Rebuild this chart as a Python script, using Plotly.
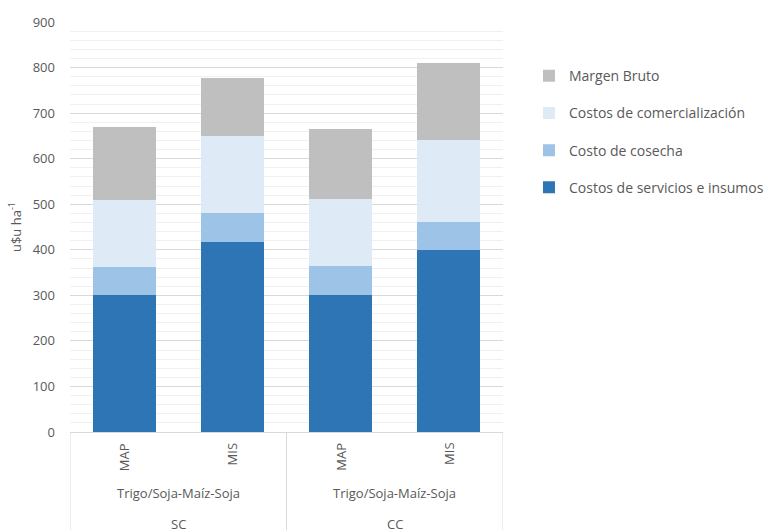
import plotly.graph_objects as go

# Treatments (inner level), rotation (middle level) and system (outer level)
treatments = ["MAP", "MIS", "MAP", "MIS"]
rotations = ["Trigo/Soja-Maíz-Soja", "Trigo/Soja-Maíz-Soja"]
systems = ["SC", "CC"]

# Stacked components, u$u ha-1
servicios = [300, 418, 300, 400]
cosecha = [63, 62, 64, 62]
comercializacion = [147, 169, 147, 178]
margen = [160, 128, 154, 170]

series_names = [
    "Costos de servicios e insumos",
    "Costo de cosecha",
    "Costos de comercialización",
    "Margen Bruto",
]
series_values = [servicios, cosecha, comercializacion, margen]
series_colors = ["#2E75B6", "#9DC3E6", "#DEEBF7", "#BFBFBF"]

y_ticks = [0, 100, 200, 300, 400, 500, 600, 700, 800, 900]

FONT = "Open Sans"
GREY = "#595959"
LINE = "#d9d9d9"

xpos = list(range(len(treatments)))

fig = go.Figure()
n = len(series_names)
for i, (name, vals, col) in enumerate(zip(series_names, series_values, series_colors)):
    fig.add_trace(go.Bar(
        x=xpos, y=vals, name=name, legendgroup=f"g{i}", legendrank=100 + (n - i),
        marker=dict(color=col, line=dict(width=0)),
    ))

annotations = []
# inner level labels, rotated
for x, t in zip(xpos, treatments):
    annotations.append(dict(
        x=x, y=0, xref="x", yref="paper", text=t, textangle=-90,
        showarrow=False, xanchor="center", yanchor="top", yshift=-9,
        font=dict(family=FONT, size=13, color=GREY),
    ))
# middle and outer level labels
for g, (rot, sysname) in enumerate(zip(rotations, systems)):
    cx = 2 * g + 0.5
    annotations.append(dict(
        x=cx, y=0, xref="x", yref="paper", text=rot, showarrow=False,
        xanchor="center", yanchor="middle", yshift=-61,
        font=dict(family=FONT, size=13, color=GREY),
    ))
    annotations.append(dict(
        x=cx, y=0, xref="x", yref="paper", text=sysname, showarrow=False,
        xanchor="center", yanchor="middle", yshift=-92,
        font=dict(family=FONT, size=13, color=GREY),
    ))

# group divider lines under the axis
shapes = []
for xd in [-0.5, 1.5, 3.5]:
    shapes.append(dict(
        type="line", xref="x", yref="paper", x0=xd, x1=xd, y0=0, y1=-0.3,
        line=dict(color=LINE, width=1),
    ))

fig.update_layout(
    barmode="stack",
    bargap=0.42,
    width=770, height=530,
    margin=dict(l=70, r=267, t=22, b=98, pad=0, autoexpand=False),
    plot_bgcolor="white", paper_bgcolor="white",
    font=dict(family=FONT, size=13, color=GREY),
    xaxis=dict(
        range=[-0.5, 3.5], showticklabels=False, showgrid=False, zeroline=False,
        showline=True, linecolor=LINE, linewidth=1, ticks="",
    ),
    yaxis=dict(
        range=[0, 900], tickvals=y_ticks, showgrid=True, gridcolor=LINE, gridwidth=1,
        zeroline=False, ticks="", ticklabelstandoff=14,
        tickfont=dict(family=FONT, size=13, color=GREY),
        minor=dict(dtick=20, showgrid=True, gridcolor="#f0f0f0", gridwidth=1),
        title=dict(text="u$u ha<sup>-1</sup>", standoff=8,
                   font=dict(family=FONT, size=13, color=GREY)),
    ),
    legend=dict(
        traceorder="grouped", tracegroupgap=16,
        x=1.060, xanchor="left", y=0.907, yanchor="top",
        font=dict(family=FONT, size=14, color=GREY),
        bgcolor="rgba(0,0,0,0)",
    ),
    annotations=annotations,
    shapes=shapes,
)

fig.write_html("out.html")
